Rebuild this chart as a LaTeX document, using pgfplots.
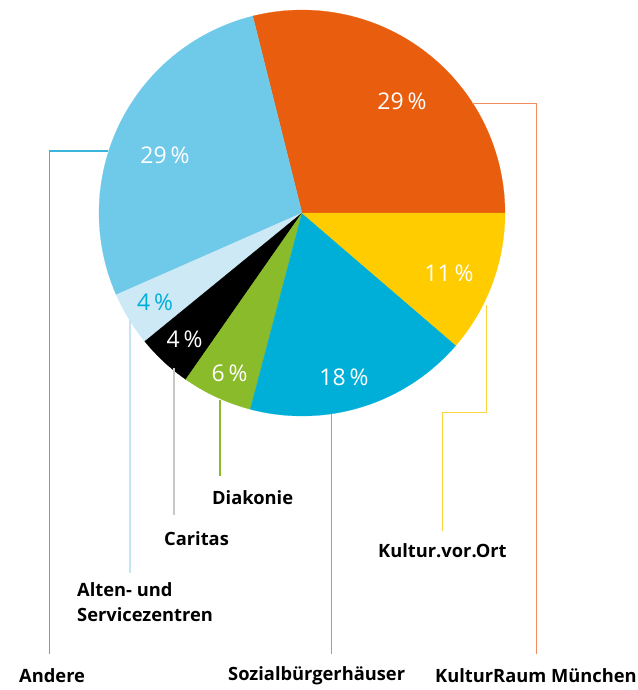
\documentclass[border=0pt]{standalone}
\usepackage{pgfplots}
\pgfplotsset{compat=1.18}
\usepackage{fontspec}
\setmainfont{Open Sans}
\definecolor{cOrange}{HTML}{E85D0E}
\definecolor{cLight}{HTML}{6FC9E8}
\definecolor{cPale}{HTML}{CDE9F6}
\definecolor{cGreen}{HTML}{8ABB2A}
\definecolor{cBlue}{HTML}{00AFD8}
\definecolor{cYellow}{HTML}{FFCC00}
\definecolor{lOrange}{HTML}{F08C60}
\definecolor{lLight}{HTML}{3CB5DD}
\definecolor{lPale}{HTML}{C6E5F4}
\definecolor{lGrey}{HTML}{C8C8C8}
\definecolor{lYellow}{HTML}{FFD33D}
\definecolor{lBlue}{HTML}{4CC0E3}
% slice shares in percent, in drawing order
\def\pA{28.9}\def\pB{27.7}\def\pC{4.3}\def\pD{4.4}\def\pE{5.6}\def\pF{17.8}\def\pG{11.3}
\newcommand\slice[3]{% start pct, share pct, colour
  \pgfmathsetmacro\sa{3.6*#1}\pgfmathsetmacro\sb{3.6*(#1+#2)}%
  \addplot[fill=#3, draw=#3, line width=0.2pt, domain=\sa:\sb, samples=60, variable=\t]
    ({302+203*cos(\t)},{213-203*sin(\t)}) -- (axis cs:302,213) -- cycle;
}
\begin{document}
\begin{tikzpicture}
\begin{axis}[name=ax,
  width=637pt, height=690pt, scale only axis,
  xmin=0, xmax=637, ymin=0, ymax=690, y dir=reverse,
  hide axis, clip=false,
]
\pgfmathsetmacro\cA{0}
\pgfmathsetmacro\cB{\cA+\pA}
\pgfmathsetmacro\cC{\cB+\pB}
\pgfmathsetmacro\cD{\cC+\pC}
\pgfmathsetmacro\cE{\cD+\pD}
\pgfmathsetmacro\cF{\cE+\pE}
\pgfmathsetmacro\cG{\cF+\pF}
\slice{\cA}{\pA}{cOrange}
\slice{\cB}{\pB}{cLight}
\slice{\cC}{\pC}{cPale}
\slice{\cD}{\pD}{black}
\slice{\cE}{\pE}{cGreen}
\slice{\cF}{\pF}{cBlue}
\slice{\cG}{\pG}{cYellow}
% leader lines
\addplot[lLight, line width=1.3pt] coordinates {(108,151) (49.3,151) (49.3,654)};
\addplot[lPale, line width=1.3pt] coordinates {(130,320) (130,573)};
\addplot[lGrey, line width=1.3pt] coordinates {(174,368) (174,515)};
\addplot[cGreen, line width=1.3pt] coordinates {(220,400) (220,476)};
\addplot[lBlue, line width=1.3pt] coordinates {(331.3,414) (331.3,654)};
\addplot[lYellow, line width=1.3pt] coordinates {(486.3,305) (486.3,412.3) (442.3,412.3) (442.3,531)};
\addplot[lOrange, line width=1.3pt] coordinates {(472,103.7) (536.3,103.7) (536.3,654)};
% percentages
\begin{scope}[every node/.style={inner sep=0pt, font=\fontsize{23}{27}\selectfont}]
\node[white] at (axis cs:402,101) {29\,\%};
\node[white] at (axis cs:165,155) {29\,\%};
\node[white] at (axis cs:449,273) {11\,\%};
\node[white] at (axis cs:344,377) {18\,\%};
\node[white] at (axis cs:229.5,373) {6\,\%};
\node[white] at (axis cs:184.5,339) {4\,\%};
\node[cBlue] at (axis cs:155,302) {4\,\%};
\end{scope}
% category labels
\begin{scope}[every node/.style={inner sep=0pt, anchor=west, font=\fontsize{18.3}{25}\selectfont\bfseries}]
\node at (axis cs:19,676) {Andere};
\node at (axis cs:228,676) {Sozialbürgerhäuser};
\node at (axis cs:435,676) {KulturRaum München};
\node[align=left] at (axis cs:77,602.5) {Alten- und\\Servicezentren};
\node at (axis cs:164,539) {Caritas};
\node at (axis cs:212,498) {Diakonie};
\node at (axis cs:378,551) {Kultur.vor.Ort};
\end{scope}
\end{axis}
\pgfresetboundingbox
\path[use as bounding box] (ax.south west) rectangle (ax.north east);
\end{tikzpicture}
\end{document}
